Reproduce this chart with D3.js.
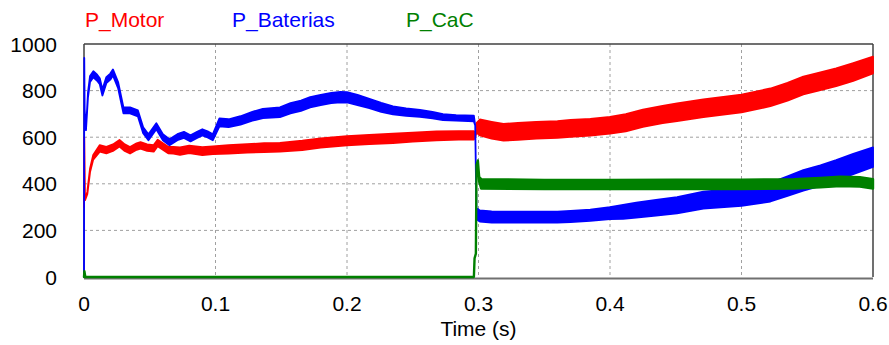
<!DOCTYPE html>
<html><head><meta charset="utf-8">
<script src="https://cdn.jsdelivr.net/npm/d3@7"></script>
<style>body{margin:0;background:#fff}svg{display:block}text{font-family:"Liberation Sans",Arial,sans-serif}</style>
</head><body><svg id="c" width="889" height="345"></svg>
<script>
// ---- data ----
const xTicks = [0, 0.1, 0.2, 0.3, 0.4, 0.5, 0.6];
const xTickLabels = ["0", "0.1", "0.2", "0.3", "0.4", "0.5", "0.6"];
const yTicks = [0, 200, 400, 600, 800, 1000];
const yTickLabels = ["0", "200", "400", "600", "800", "1000"];
const seriesNames = ["P_Motor", "P_Baterias", "P_CaC"];
const seriesColors = ["#ff0000", "#0000ff", "#008000"];

// P_Motor: time, centre value, half band width (ripple)
const motorT = [0, 0.0002, 0.0008, 0.0025, 0.0046, 0.007, 0.012, 0.017, 0.022, 0.027, 0.031, 0.035, 0.040, 0.043, 0.048, 0.053, 0.056, 0.060, 0.064, 0.068, 0.073, 0.080, 0.090, 0.098, 0.110, 0.124, 0.137, 0.149, 0.166, 0.180, 0.200, 0.217, 0.235, 0.250, 0.268, 0.285, 0.2965, 0.2975, 0.2985, 0.301, 0.310, 0.319, 0.330, 0.344, 0.360, 0.370, 0.385, 0.400, 0.412, 0.425, 0.440, 0.451, 0.471, 0.500, 0.522, 0.535, 0.547, 0.560, 0.572, 0.585, 0.600];
const motorV = [300, 600, 330, 360, 458, 514, 552, 545, 555, 574, 555, 544, 560, 565, 555, 552, 575, 560, 545, 544, 540, 548, 540, 544, 548, 552, 555, 557, 565, 575, 585, 590, 595, 600, 606, 608, 608, 600, 640, 642, 630, 621, 625, 630, 633, 638, 643, 651, 662, 681, 697, 707, 724, 745, 771, 795, 822, 840, 857, 880, 910];
const motorR = [0, 0, 0, 5, 8, 10, 14, 14, 14, 14, 14, 14, 14, 14, 14, 14, 14, 14, 14, 14, 16, 16, 17, 17, 18, 18, 19, 19, 20, 20, 20, 20, 20, 19, 19, 18, 18, 0, 20, 34, 36, 36, 36, 36, 36, 36, 36, 36, 37, 37, 37, 38, 38, 38, 38, 38, 38, 38, 38, 38, 36];

// P_Baterias
const batT = [0, 0.0002, 0.0005, 0.0015, 0.003, 0.0046, 0.0071, 0.010, 0.012, 0.014, 0.017, 0.020, 0.022, 0.026, 0.030, 0.035, 0.041, 0.045, 0.049, 0.055, 0.060, 0.065, 0.071, 0.076, 0.081, 0.086, 0.090, 0.094, 0.098, 0.103, 0.110, 0.119, 0.128, 0.136, 0.149, 0.157, 0.165, 0.172, 0.180, 0.188, 0.195, 0.200, 0.208, 0.217, 0.226, 0.235, 0.245, 0.2555, 0.265, 0.273, 0.283, 0.2965, 0.2975, 0.2985, 0.2995, 0.301, 0.31, 0.32, 0.331, 0.345, 0.36, 0.37, 0.385, 0.40, 0.41, 0.42, 0.435, 0.451, 0.471, 0.50, 0.522, 0.535, 0.547, 0.56, 0.572, 0.585, 0.60];
const batV = [0, 940, 720, 630, 780, 850, 870, 855, 840, 792, 845, 860, 878, 822, 715, 715, 702, 630, 600, 647, 600, 578, 600, 610, 595, 610, 621, 612, 600, 664, 660, 672, 690, 702, 707, 724, 735, 750, 760, 768, 772, 771, 760, 745, 728, 715, 708, 702, 695, 686, 683, 680, 650, 262, 268, 262, 258, 257, 257, 257, 257, 260, 265, 274, 280, 287, 297, 308, 330, 343, 364, 390, 415, 435, 458, 485, 514];
const batR = [0, 0, 0, 0, 10, 13, 13, 13, 13, 13, 13, 13, 13, 13, 13, 13, 13, 13, 13, 13, 13, 13, 13, 13, 13, 13, 13, 13, 13, 17, 17, 18, 19, 20, 21, 22, 22, 22, 22, 22, 22, 22, 22, 20, 19, 17, 16, 15, 14, 13, 12, 12, 0, 10, 24, 24, 24, 24, 24, 24, 24, 24, 24, 26, 30, 32, 34, 35, 36, 38, 40, 42, 44, 44, 44, 44, 42];

// P_CaC
const cacT = [0, 0.0003, 0.001, 0.2965, 0.297, 0.298, 0.2985, 0.2995, 0.3005, 0.302, 0.35, 0.40, 0.45, 0.50, 0.54, 0.56, 0.575, 0.59, 0.60];
const cacV = [0, 25, 0, 0, 80, 100, 480, 500, 420, 400, 397, 397, 398, 398, 400, 405, 410, 408, 400];
const cacR = [0, 0, 0, 0, 0, 0, 0, 0, 10, 20, 20, 20, 20, 20, 20, 20, 20, 20, 20];

// ---- layout ----
const svg = d3.select("#c");
const L = 84, R = 873, T = 44, B = 277;
const x = d3.scaleLinear().domain([0, 0.6]).range([L, R]);
const y = d3.scaleLinear().domain([0, 1000]).range([B, T]);

// grid
const grid = svg.append("g").attr("stroke", "#a0a0a0").attr("stroke-width", 1).attr("stroke-dasharray", "3,3");
xTicks.filter(t => t > 0 && t < 0.6).forEach(t => {
  grid.append("line").attr("x1", x(t)).attr("x2", x(t)).attr("y1", T).attr("y2", B);
});
yTicks.filter(v => v > 0 && v < 1000).forEach(v => {
  grid.append("line").attr("x1", L).attr("x2", R).attr("y1", y(v)).attr("y2", y(v));
});

// frame
svg.append("line").attr("x1", L).attr("x2", R).attr("y1", T).attr("y2", T).attr("stroke", "#404040").attr("stroke-width", 1.5);
svg.append("line").attr("x1", L).attr("x2", L).attr("y1", T).attr("y2", B).attr("stroke", "#404040").attr("stroke-width", 1.5);
svg.append("line").attr("x1", R).attr("x2", R).attr("y1", T).attr("y2", B).attr("stroke", "#404040").attr("stroke-width", 1.5);
svg.append("line").attr("x1", L).attr("x2", R).attr("y1", B + 1.5).attr("y2", B + 1.5).attr("stroke", "#707070").attr("stroke-width", 2);

// series
function band(ts, vs, rs, color, sw) {
  const d = ts.map((t, i) => ({t: t, v: vs[i], r: rs[i]}));
  const area = d3.area().x(p => x(p.t)).y0(p => y(p.v - p.r)).y1(p => y(p.v + p.r));
  svg.append("path").datum(d).attr("d", area).attr("fill", color)
    .attr("stroke", color).attr("stroke-width", sw).attr("stroke-linejoin", "round");
}
band(motorT, motorV, motorR, seriesColors[0], 1.8);
band(batT, batV, batR, seriesColors[1], 1.8);
band(cacT, cacV, cacR, seriesColors[2], 2.4);

// axis labels
const fs = 21;
svg.append("g").selectAll("text").data(yTicks).join("text")
  .attr("x", 57).attr("y", v => y(v) + 7.5).attr("text-anchor", "end")
  .attr("font-size", fs).attr("fill", "#000").text((v, i) => yTickLabels[i]);
svg.append("g").selectAll("text").data(xTicks).join("text")
  .attr("x", t => x(t)).attr("y", 311).attr("text-anchor", "middle")
  .attr("font-size", fs).attr("fill", "#000").text((t, i) => xTickLabels[i]);
svg.append("text").attr("x", (L + R) / 2).attr("y", 336).attr("text-anchor", "middle")
  .attr("font-size", fs).attr("fill", "#000").text("Time (s)");

// legend
const legX = [85, 232, 406];
seriesNames.forEach((n, i) => {
  svg.append("text").attr("x", legX[i]).attr("y", 27).attr("font-size", fs)
    .attr("fill", seriesColors[i]).text(n);
});
</script></body></html>
